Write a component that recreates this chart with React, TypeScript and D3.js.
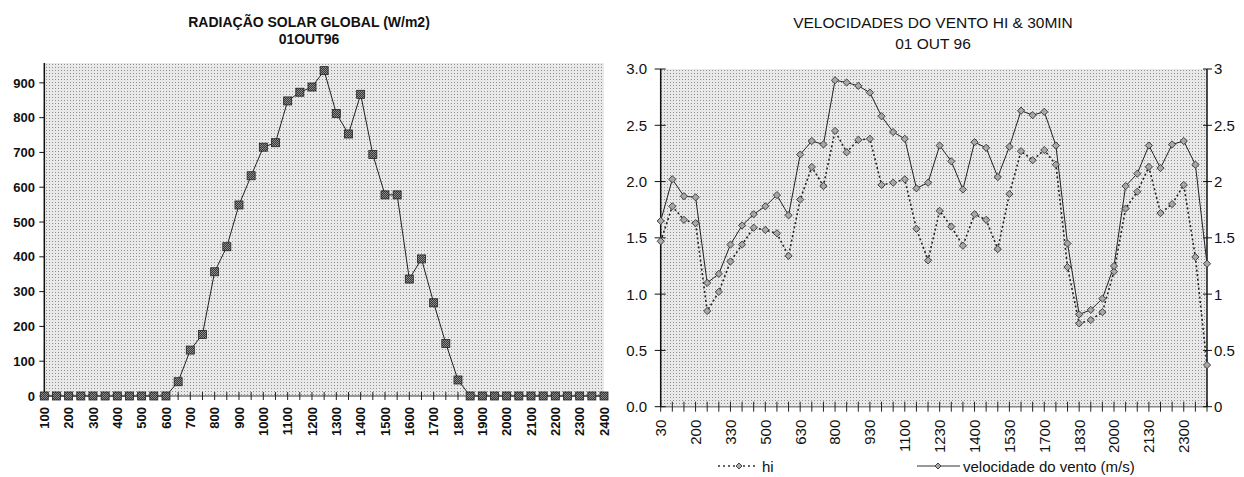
import React from "react";
import * as d3 from "d3";

// ---------- Left chart data: Radiação solar global (W/m2) ----------
const solarTimes = [
  "100","150","200","250","300","350","400","450","500","550","600","650",
  "700","750","800","850","900","950","1000","1050","1100","1150","1200","1250",
  "1300","1350","1400","1450","1500","1550","1600","1650","1700","1750","1800","1850",
  "1900","1950","2000","2050","2100","2150","2200","2250","2300","2350","2400",
];
const solarValues = [
  0, 0, 0, 0, 0, 0, 0, 0, 0, 0, 0, 41,
  132, 177, 357, 429, 549, 633, 715, 728, 848, 873, 888, 935,
  812, 753, 867, 694, 578, 578, 336, 394, 268, 151, 46, 0,
  0, 0, 0, 0, 0, 0, 0, 0, 0, 0, 0,
];
const solarYTicks = [0, 100, 200, 300, 400, 500, 600, 700, 800, 900];

// ---------- Right chart data: Velocidades do vento ----------
const windTimes = [
  "30","100","130","200","230","300","330","400","430","500","530","600",
  "630","700","730","800","830","900","930","1000","1030","1100","1130","1200",
  "1230","1300","1330","1400","1430","1500","1530","1600","1630","1700","1730","1800",
  "1830","1900","1930","2000","2030","2100","2130","2200","2230","2300","2330","2400",
];
const windSpeed = [
  1.65, 2.02, 1.87, 1.86, 1.10, 1.18, 1.44, 1.61, 1.71, 1.78, 1.88, 1.70,
  2.24, 2.36, 2.33, 2.90, 2.88, 2.85, 2.79, 2.58, 2.44, 2.38, 1.94, 1.99,
  2.32, 2.18, 1.93, 2.35, 2.30, 2.04, 2.31, 2.63, 2.59, 2.62, 2.32, 1.45,
  0.82, 0.86, 0.96, 1.25, 1.96, 2.07, 2.32, 2.12, 2.33, 2.36, 2.15, 1.27,
];
const windHi = [
  1.47, 1.78, 1.66, 1.63, 0.85, 1.02, 1.29, 1.44, 1.59, 1.57, 1.54, 1.34,
  1.84, 2.13, 1.96, 2.45, 2.26, 2.37, 2.38, 1.97, 1.99, 2.02, 1.58, 1.30,
  1.74, 1.60, 1.43, 1.71, 1.66, 1.40, 1.89, 2.27, 2.19, 2.28, 2.15, 1.24,
  0.74, 0.77, 0.84, 1.20, 1.76, 1.91, 2.13, 1.72, 1.80, 1.97, 1.33, 0.37,
];
const windLeftTicks = ["0.0", "0.5", "1.0", "1.5", "2.0", "2.5", "3.0"];
const windRightTicks = ["0", "0.5", "1", "1.5", "2", "2.5", "3"];
const windTickValues = [0, 0.5, 1, 1.5, 2, 2.5, 3];

const FONT = "'Liberation Sans', Arial, Helvetica, sans-serif";

export default function App() {
  // Left chart geometry
  const L = { left: 44.3, right: 604, top: 63, bottom: 396 };
  const xL = d3.scalePoint<string>().domain(solarTimes).range([L.left, L.right]);
  const yL = d3.scaleLinear().domain([0, 957]).range([L.bottom, L.top]);
  const lineL = d3
    .line<number>()
    .x((_, i) => xL(solarTimes[i]) as number)
    .y((d) => yL(d));

  // Right chart geometry
  const R = { left: 660.7, right: 1207, top: 69, bottom: 406.7 };
  const xR = d3.scalePoint<string>().domain(windTimes).range([R.left, R.right]);
  const yR = d3.scaleLinear().domain([0, 3]).range([R.bottom, R.top]);
  const lineR = d3
    .line<number>()
    .x((_, i) => xR(windTimes[i]) as number)
    .y((d) => yR(d));

  const diamond = (cx: number, cy: number, r = 3.6) =>
    `M${cx},${cy - r}L${cx + r},${cy}L${cx},${cy + r}L${cx - r},${cy}Z`;

  return (
    <svg
      width={1244}
      height={477}
      style={{ position: "absolute", left: 0, top: 0, background: "#fff" }}
      fontFamily={FONT}
    >
      <defs>
        <pattern id="stipple" width={3} height={3} patternUnits="userSpaceOnUse">
          <rect width={3} height={3} fill="#e9e9e9" />
          <rect x={1} y={1} width={1} height={1} fill="#8f8f8f" />
        </pattern>
        <pattern id="markfill" width={2} height={2} patternUnits="userSpaceOnUse">
          <rect width={2} height={2} fill="#3a3a3a" />
          <rect width={1} height={1} fill="#8a8a8a" />
          <rect x={1} y={1} width={1} height={1} fill="#8a8a8a" />
        </pattern>
      </defs>

      {/* ================= LEFT CHART ================= */}
      <text x={309} y={27} textAnchor="middle" fontWeight="bold" fontSize={14} fill="#111">
        RADIAÇÃO SOLAR GLOBAL (W/m2)
      </text>
      <text x={309} y={43.5} textAnchor="middle" fontWeight="bold" fontSize={14} fill="#111">
        01OUT96
      </text>

      <rect x={L.left} y={L.top} width={L.right - L.left} height={L.bottom - L.top} fill="url(#stipple)" />

      {/* y axis */}
      <line x1={L.left} x2={L.left} y1={L.top} y2={L.bottom} stroke="#111" strokeWidth={1.5} />
      {solarYTicks.map((t) => (
        <g key={"ly" + t}>
          <line x1={L.left - 5} x2={L.left} y1={yL(t)} y2={yL(t)} stroke="#111" strokeWidth={1} />
          <text x={35} y={yL(t)} dy="0.36em" textAnchor="end" fontWeight="bold" fontSize={13} fill="#111">
            {t}
          </text>
        </g>
      ))}

      {/* x axis */}
      <line x1={L.left} x2={L.right} y1={L.bottom} y2={L.bottom} stroke="#777" strokeWidth={1.5} />
      {solarTimes.map((t, i) => {
        const x = xL(t) as number;
        return (
          <g key={"lx" + t}>
            <line x1={x} x2={x} y1={L.bottom - 4} y2={L.bottom + 4} stroke="#222" strokeWidth={1} />
            {i % 2 === 0 && (
              <text
                transform={`translate(${x},${L.bottom + 11}) rotate(-90)`}
                textAnchor="end"
                dy="0.36em"
                fontWeight="bold"
                fontSize={13}
                fill="#111"
              >
                {t}
              </text>
            )}
          </g>
        );
      })}

      <path d={lineL(solarValues) || ""} fill="none" stroke="#222" strokeWidth={1} />
      {solarValues.map((v, i) => {
        const x = xL(solarTimes[i]) as number;
        const y = yL(v);
        return (
          <rect
            key={"lm" + i}
            x={x - 4}
            y={y - 4}
            width={8}
            height={8}
            fill="url(#markfill)"
            stroke="#222"
            strokeWidth={0.8}
          />
        );
      })}

      {/* ================= RIGHT CHART ================= */}
      <text x={933} y={28} textAnchor="middle" fontSize={15.5} fill="#111">
        VELOCIDADES DO VENTO HI &amp; 30MIN
      </text>
      <text x={933} y={48.5} textAnchor="middle" fontSize={15.5} fill="#111">
        01 OUT 96
      </text>

      <rect x={R.left} y={R.top} width={R.right - R.left} height={R.bottom - R.top} fill="url(#stipple)" />

      {/* bottom axis */}
      <line x1={R.left} x2={R.right} y1={R.bottom} y2={R.bottom} stroke="#888" strokeWidth={1.5} />
      {windTimes.map((t, i) => {
        const x = xR(t) as number;
        return (
          <g key={"rx" + t}>
            <line x1={x} x2={x} y1={R.bottom - 5} y2={R.bottom + 5} stroke="#222" strokeWidth={1} />
            {i % 3 === 0 && (
              <text
                transform={`translate(${x},${R.bottom + 13}) rotate(-90)`}
                textAnchor="end"
                dy="0.36em"
                fontSize={15}
                fill="#111"
              >
                {t}
              </text>
            )}
          </g>
        );
      })}

      {/* left axis */}
      <line x1={R.left} x2={R.left} y1={R.top} y2={R.bottom} stroke="#111" strokeWidth={1.5} />
      {windTickValues.map((t, i) => (
        <g key={"rly" + t}>
          <line x1={R.left - 6} x2={R.left + 5} y1={yR(t)} y2={yR(t)} stroke="#111" strokeWidth={1} />
          <text x={647} y={yR(t)} dy="0.36em" textAnchor="end" fontSize={15} fill="#111">
            {windLeftTicks[i]}
          </text>
        </g>
      ))}

      {/* right axis */}
      <line x1={R.right} x2={R.right} y1={R.top} y2={R.bottom} stroke="#111" strokeWidth={1.5} />
      {windTickValues.map((t, i) => (
        <g key={"rry" + t}>
          <line x1={R.right - 4} x2={R.right + 5} y1={yR(t)} y2={yR(t)} stroke="#111" strokeWidth={1} />
          <text x={R.right + 7} y={yR(t)} dy="0.36em" textAnchor="start" fontSize={15} fill="#111">
            {windRightTicks[i]}
          </text>
        </g>
      ))}

      {/* hi series (dotted) */}
      <path d={lineR(windHi) || ""} fill="none" stroke="#222" strokeWidth={1.6} strokeDasharray="2,2.5" />
      {/* wind speed series (solid) */}
      <path d={lineR(windSpeed) || ""} fill="none" stroke="#222" strokeWidth={1} />

      {windHi.map((v, i) => (
        <path
          key={"hm" + i}
          d={diamond(xR(windTimes[i]) as number, yR(v))}
          fill="#a8a8a8"
          stroke="#333"
          strokeWidth={0.9}
        />
      ))}
      {windSpeed.map((v, i) => (
        <path
          key={"wm" + i}
          d={diamond(xR(windTimes[i]) as number, yR(v))}
          fill="#a8a8a8"
          stroke="#333"
          strokeWidth={0.9}
        />
      ))}

      {/* legend */}
      <line x1={718} x2={758} y1={466} y2={466} stroke="#333" strokeWidth={1.5} strokeDasharray="2,3" />
      <path d={diamond(739, 466, 3)} fill="#a8a8a8" stroke="#333" strokeWidth={0.9} />
      <text x={762} y={471.5} fontSize={15} fill="#111">
        hi
      </text>
      <line x1={917} x2={960} y1={466} y2={466} stroke="#333" strokeWidth={1} />
      <path d={diamond(938, 466, 3)} fill="#a8a8a8" stroke="#333" strokeWidth={0.9} />
      <text x={963} y={471.5} fontSize={15} fill="#111">
        velocidade do vento (m/s)
      </text>
    </svg>
  );
}
